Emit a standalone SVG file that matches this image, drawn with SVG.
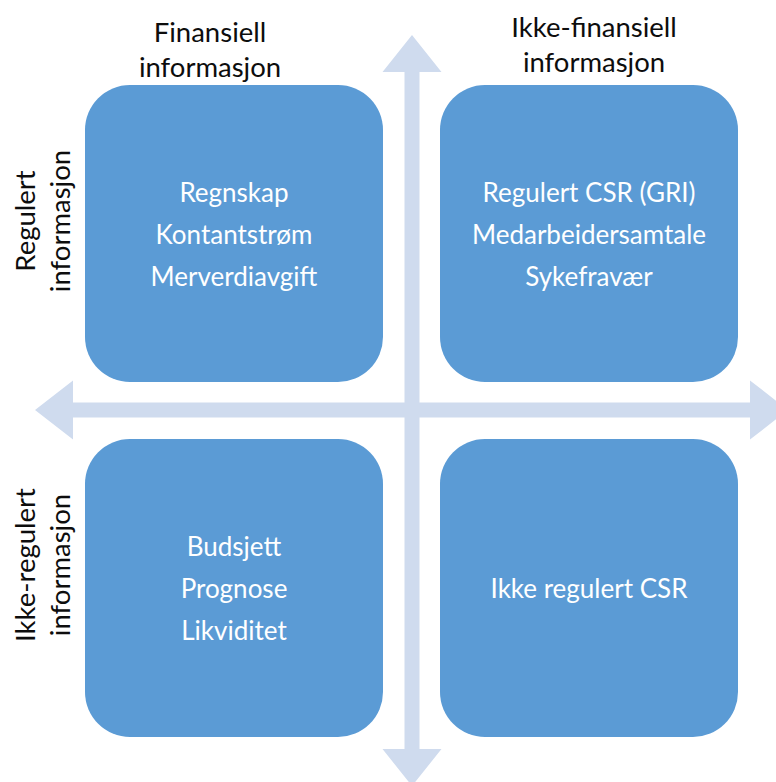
<svg xmlns="http://www.w3.org/2000/svg" width="776" height="782" viewBox="0 0 776 782">
  <style>
    .box { fill: #5b9bd5; }
    .axis { fill: #cfdbee; }
    .inner { font-family: Lato, "Liberation Sans", sans-serif; font-size: 26px; fill: #ffffff; text-anchor: middle; }
    .head { font-family: Lato, "Liberation Sans", sans-serif; font-size: 27.5px; fill: #0d0d0d; text-anchor: middle; }
  </style>
  <rect width="776" height="782" fill="#ffffff"/>

  <!-- four-way axis arrow -->
  <g id="connectors">
    <polygon class="axis" points="412,35 441.5,72 419.5,72 419.5,402.5 750,402.5 750,380.5 788,410 750,439.5 750,417.5 419.5,417.5 419.5,749 441.5,749 412,786 382.5,749 404.5,749 404.5,417.5 73,417.5 73,439.5 35,410 73,380.5 73,402.5 404.5,402.5 404.5,72 382.5,72"/>
  </g>

  <!-- axis labels -->
  <g id="label-financial">
    <text class="head" x="210" y="42">Finansiell</text>
    <text class="head" x="210" y="77">informasjon</text>
  </g>
  <g id="label-nonfinancial">
    <text class="head" x="594" y="37">Ikke-finansiell</text>
    <text class="head" x="594" y="72">informasjon</text>
  </g>
  <g id="label-regulated" transform="translate(0,221) rotate(-90)">
    <text class="head" x="0" y="35">Regulert</text>
    <text class="head" x="0" y="70">informasjon</text>
  </g>
  <g id="label-unregulated" transform="translate(0,565) rotate(-90)">
    <text class="head" x="0" y="35">Ikke-regulert</text>
    <text class="head" x="0" y="70">informasjon</text>
  </g>

  <!-- quadrants -->
  <g id="q-fin-reg">
    <rect class="box" x="85" y="85" width="298" height="297" rx="45" ry="45"/>
    <text class="inner" x="234" y="202">Regnskap</text>
    <text class="inner" x="234" y="244">Kontantstrøm</text>
    <text class="inner" x="234" y="286">Merverdiavgift</text>
  </g>
  <g id="q-nonfin-reg">
    <rect class="box" x="440" y="85" width="298" height="297" rx="45" ry="45"/>
    <text class="inner" x="589" y="202">Regulert CSR (GRI)</text>
    <text class="inner" x="589" y="244">Medarbeidersamtale</text>
    <text class="inner" x="589" y="286">Sykefravær</text>
  </g>
  <g id="q-fin-unreg">
    <rect class="box" x="85" y="439" width="298" height="298" rx="45" ry="45"/>
    <text class="inner" x="234" y="556">Budsjett</text>
    <text class="inner" x="234" y="598">Prognose</text>
    <text class="inner" x="234" y="640">Likviditet</text>
  </g>
  <g id="q-nonfin-unreg">
    <rect class="box" x="440" y="439" width="298" height="298" rx="45" ry="45"/>
    <text class="inner" x="589" y="598">Ikke regulert CSR</text>
  </g>
</svg>
